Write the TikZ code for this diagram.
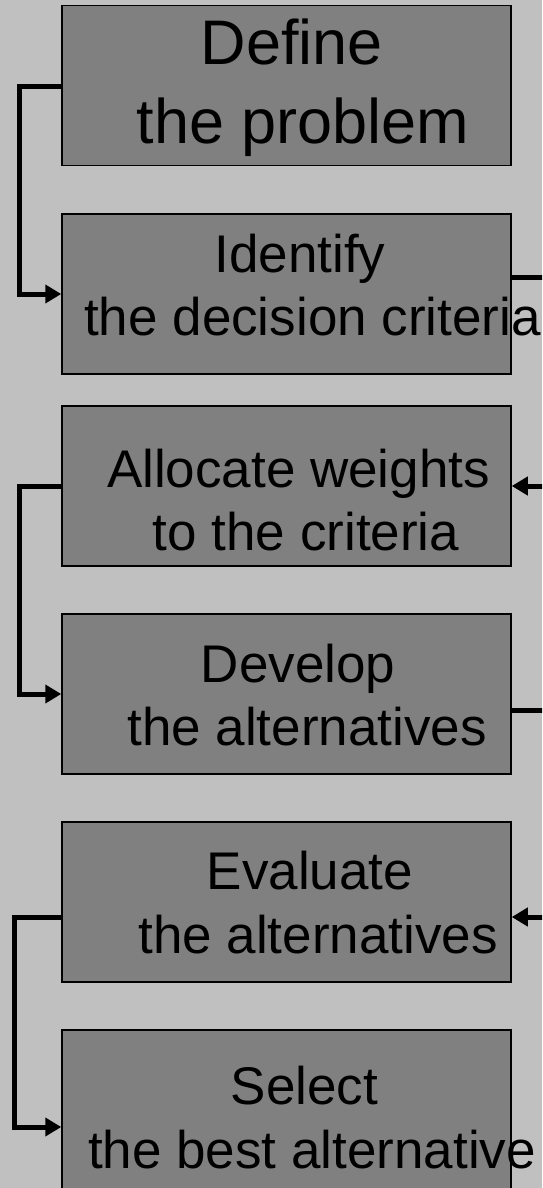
\documentclass[tikz,border=0pt]{standalone}
\usepackage{fontspec}
\setmainfont{Liberation Sans}
\usetikzlibrary{arrows.meta}
\definecolor{bgc}{HTML}{C0C0C0}
\definecolor{boxc}{HTML}{808080}
\tikzset{
  box/.style={draw=black, line width=1.5pt, fill=boxc, minimum width=449pt, minimum height=160pt, inner sep=0pt},
  txt/.style={anchor=base, inner sep=0pt, text=black, font=\fontsize{53}{63}\selectfont},
  bigtxt/.style={anchor=base, inner sep=0pt, text=black, font=\fontsize{63}{76}\selectfont},
  conn/.style={draw=black, line width=5pt},
  arr/.style={conn, -{Triangle[length=16pt,width=18pt]}}
}
\begin{document}
\begin{tikzpicture}[x=1pt,y=-1pt]
\useasboundingbox (0,0) rectangle (542,1188);
\clip (0,0) rectangle (542,1188);
\fill[bgc] (0,0) rectangle (542,1188);

\node[box] (b1) at (286.5,85.5) {};
\node[box] (b2) at (286.5,294) {};
\node[box] (b3) at (286.5,486) {};
\node[box] (b4) at (286.5,694) {};
\node[box] (b5) at (286.5,902) {};
\node[box] (b6) at (286.5,1110) {};

\node[bigtxt] (t1a) at (292,65) {Define};
\node[bigtxt] (t1b) at (303,143) {the problem};
\node[txt] (t2a) at (300,272) {Identify};
\node[txt] (t2b) at (312.5,335) {the decision criteria};
\node[txt] (t3a) at (298.5,487) {Allocate weights};
\node[txt] (t3b) at (306,550) {to the criteria};
\node[txt] (t4a) at (298,682) {Develop};
\node[txt] (t4b) at (307,745) {the alternatives};
\node[txt] (t5a) at (310,889) {Evaluate};
\node[txt] (t5b) at (318,953) {the alternatives};
\node[txt] (t6a) at (304.5,1104) {Select};
\node[txt] (t6b) at (312,1168) {the best alternative};

% left connectors
\draw[arr] ([yshift=-1.5pt]b1.west) -| (19,200) |- ([yshift=0pt]b2.west);
\draw[arr] (b3.west) -| (19,600) |- (b4.west);
\draw[arr] ([yshift=-15pt]b5.west) -| (14,1000) |- ([yshift=-17pt]b6.west);

% right connectors (leaving the picture)
\coordinate (r1) at (570,380);
\coordinate (r2) at (570,810);
\draw[arr] ([yshift=17pt]b2.east) -| (r1) |- (b3.east);
\draw[arr] ([yshift=-16pt]b4.east) -| (r2) |- ([yshift=-15pt]b5.east);
\end{tikzpicture}
\end{document}
